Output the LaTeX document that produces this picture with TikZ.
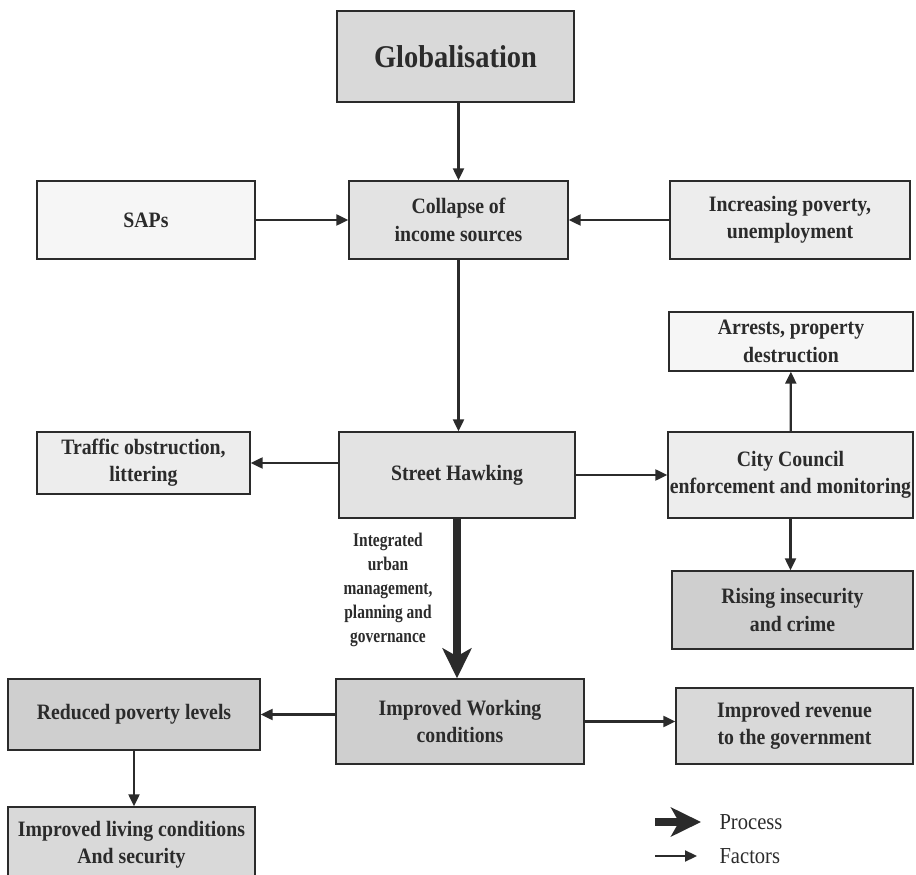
\documentclass[tikz,border=0pt]{standalone}
\usepackage{fontspec}
\setmainfont[FakeStretch=0.9]{Liberation Serif}
\newfontfamily\narrowserif[FakeStretch=0.8]{Liberation Serif}
\usetikzlibrary{arrows.meta, calc}
\definecolor{cwhite}{HTML}{F6F6F6}
\definecolor{cpale}{HTML}{EDEDED}
\definecolor{clight}{HTML}{E3E3E3}
\definecolor{cmid}{HTML}{D9D9D9}
\definecolor{cdark}{HTML}{CFCFCF}
\definecolor{cink}{HTML}{2B2B2B}
\tikzset{
  every picture/.style={line width=0.8pt},
  box/.style={draw=cink, fill=#1, align=center, inner xsep=1pt, inner ysep=2pt, text=cink,
    font=\bfseries\fontsize{12.5}{15.5}\selectfont},
  box/.default=cpale,
  arrow/.style={-{Triangle[length=2.4mm, width=2.2mm]}, draw=cink, line width=1.3pt},
  process/.style={-{Stealth[length=6mm, width=5.8mm, inset=1.6mm]}, draw=cink, line width=4.5pt},
  note/.style={font=\narrowserif\bfseries\fontsize{11}{13.6}\selectfont, align=center, text=cink},
  legend/.style={font=\fontsize{13}{15}\selectfont, text=cink, anchor=west},
}

\begin{document}
\begin{tikzpicture}[x=1cm, y=1cm]
  \useasboundingbox (0,0) rectangle (18.32,-17.5);
  % top row
  \node[box=cmid, minimum width=4.74cm, minimum height=1.82cm,
    font=\bfseries\fontsize{18}{21}\selectfont] (glob) at (9.11,-1.13) {Globalisation};
  \node[box=cwhite, minimum width=4.36cm, minimum height=1.56cm] (saps) at (2.92,-4.40) {SAPs};
  \node[box=clight, minimum width=4.38cm, minimum height=1.56cm] (collapse) at (9.17,-4.40) {Collapse of\\income sources};
  \node[box=cpale, minimum width=4.80cm, minimum height=1.56cm] (poverty) at (15.80,-4.40) {Increasing poverty,\\unemployment};
  % middle row
  \node[box=cwhite, minimum width=4.88cm, minimum height=1.18cm] (arrests) at (15.82,-6.83) {Arrests, property\\destruction};
  \node[box=cpale, minimum width=4.26cm, minimum height=1.24cm] (traffic) at (2.87,-9.26) {Traffic obstruction,\\littering};
  \node[box=clight, minimum width=4.72cm, minimum height=1.72cm] (hawk) at (9.14,-9.50) {Street Hawking};
  \node[box=cpale, minimum width=4.90cm, minimum height=1.72cm] (council) at (15.81,-9.50) {City Council\\enforcement and monitoring};
  \node[box=cdark, minimum width=4.82cm, minimum height=1.56cm] (rising) at (15.85,-12.20) {Rising insecurity\\and crime};
  % bottom row
  \node[box=cdark, minimum width=5.04cm, minimum height=1.42cm] (reduced) at (2.68,-14.29) {Reduced poverty levels};
  \node[box=cdark, minimum width=4.96cm, minimum height=1.70cm] (working) at (9.20,-14.43) {Improved Working\\conditions};
  \node[box=cmid, minimum width=4.74cm, minimum height=1.52cm] (revenue) at (15.89,-14.52) {Improved revenue\\to the government};
  \node[box=cmid, minimum width=4.94cm, minimum height=1.52cm] (living) at (2.63,-16.90) {Improved living conditions\\And security};
  \node[note] (policy) at (7.76,-11.80) {Integrated\\urban\\management,\\planning and\\governance};

  % factors
  \draw[arrow] (collapse.north |- glob.south) -- (collapse.north);
  \draw[arrow] (saps) -- (collapse);
  \draw[arrow] (poverty) -- (collapse);
  \draw[arrow] (collapse.south) -- (collapse.south |- hawk.north);
  \draw[arrow] (hawk.west |- traffic.east) -- (traffic.east);
  \draw[arrow] (hawk) -- (council);
  \draw[arrow] (council) -- (arrests);
  \draw[arrow] (council.south) -- (council.south |- rising.north);
  \draw[arrow] (working.west |- reduced.east) -- (reduced.east);
  \draw[arrow] (working.east) -- (working.east -| revenue.west);
  \draw[arrow] (reduced.south) -- (reduced.south |- living.north);
  % process
  \draw[process] (hawk.south) -- (hawk.south |- working.north);

  % legend
  \node[legend] (proclbl) at (14.26,-16.44) {Process};
  \node[legend] (factlbl) at (14.26,-17.12) {Factors};
  \coordinate (procfrom) at (13.10,-16.44);
  \coordinate (factfrom) at (13.10,-17.12);
  \draw[process] (procfrom) -- ([xshift=-2.4mm]proclbl.west);
  \draw[arrow] (factfrom) -- ([xshift=-3.2mm]factlbl.west);
\end{tikzpicture}
\end{document}
